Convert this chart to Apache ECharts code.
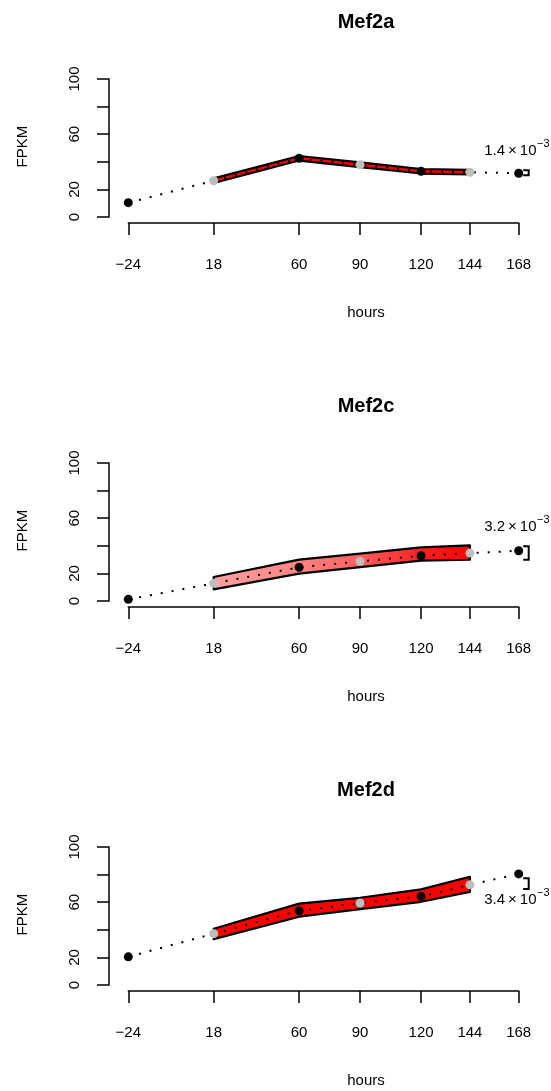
<!DOCTYPE html>
<html><head><meta charset="utf-8">
<script src="https://cdn.jsdelivr.net/npm/echarts@6/dist/echarts.min.js"></script>
<style>html,body{margin:0;padding:0;background:#fff}#c{width:551px;height:1091px}</style>
</head><body><div id="c"></div>
<script>
// ---- data ----
const genes = ['Mef2a', 'Mef2c', 'Mef2d'];
const hours = [-24, 18, 60, 90, 120, 144, 168];
const bandHours = [18, 60, 90, 120, 144];
const greyHours = [18, 90, 144];
const yTickLabels = [0, 20, 60, 100];

const mef2aMean  = [10.4, 26.3, 42.5, 37.9, 33.1, 32.4, 31.7];
const mef2aUpper = [28.0, 44.2, 39.6, 34.8, 34.1];
const mef2aLower = [24.6, 40.9, 36.2, 31.5, 30.8];

const mef2cMean  = [1.2, 12.8, 24.4, 28.7, 32.8, 34.7, 36.4];
const mef2cUpper = [17.4, 30.0, 34.3, 38.8, 40.3];
const mef2cLower = [8.4, 19.8, 24.6, 29.2, 29.9];

const mef2dMean  = [20.4, 37.2, 53.8, 59.4, 64.2, 72.6, 80.5];
const mef2dUpper = [40.8, 59.0, 63.2, 69.3, 78.4];
const mef2dLower = [33.2, 49.5, 55.0, 60.3, 67.5];

const bracketHigh = [33.8, 39.6, 77.4];
const bracketLow  = [30.2, 29.9, 69.5];
const pMantissa = ['1.4', '3.2', '3.4'];
const pExponent = ['\u22123', '\u22123', '\u22123'];

// ---- layout / style ----
const means = [mef2aMean, mef2cMean, mef2dMean];
const uppers = [mef2aUpper, mef2cUpper, mef2dUpper];
const lowers = [mef2aLower, mef2cLower, mef2dLower];
const labelBelow = [false, false, true];
const PANEL = 384;
const FONT = '"Liberation Sans", Arial, Helvetica, sans-serif';
const fills = [
  '#ff0000',
  new echarts.graphic.LinearGradient(0, 0, 1, 0, [
    {offset: 0, color: '#ffa0a0'},
    {offset: 0.33, color: '#ff8484'},
    {offset: 0.57, color: '#ff5e5e'},
    {offset: 0.81, color: '#ff2020'},
    {offset: 1, color: '#ff0000'}
  ]),
  '#ff0000'
];

const mctx = document.createElement('canvas').getContext('2d');
function textW(t, size) { mctx.font = size + 'px ' + FONT; return mctx.measureText(t).width; }

const chart = echarts.init(document.getElementById('c'), null, {renderer: 'canvas'});
const grid = [], xAxis = [], yAxis = [], series = [], graphic = [];

genes.forEach((g, i) => {
  const off = i * PANEL;
  grid.push({left: 128.3, right: 32.3, top: 79 + off, height: 138});
  xAxis.push({
    type: 'value', gridIndex: i, min: -24, max: 168, offset: 6,
    splitLine: {show: false},
    axisLine: {show: true, onZero: false, lineStyle: {color: '#000', width: 1.5}},
    axisTick: {show: true, length: 12, customValues: hours, lineStyle: {color: '#000', width: 1.5}},
    axisLabel: {customValues: hours, margin: 34, fontSize: 15, fontFamily: FONT, color: '#000',
      formatter: v => v < 0 ? '\u2212' + Math.abs(v) : String(v)}
  });
  yAxis.push({
    type: 'value', gridIndex: i, min: 0, max: 100, interval: 20, offset: 19.3, position: 'left',
    splitLine: {show: false},
    axisLine: {show: true, onZero: false, lineStyle: {color: '#000', width: 1.5}},
    axisTick: {show: true, length: 12, lineStyle: {color: '#000', width: 1.5}},
    axisLabel: {rotate: 90, margin: 27, fontSize: 15, fontFamily: FONT, color: '#000',
      formatter: v => yTickLabels.includes(v) ? String(v) : ''}
  });

  // band
  series.push({
    type: 'custom', xAxisIndex: i, yAxisIndex: i, z: 2, silent: true,
    data: [[bandHours[0], lowers[i][0]]],
    renderItem: (params, api) => {
      const up = bandHours.map((h, j) => api.coord([h, uppers[i][j]]));
      const lo = bandHours.map((h, j) => api.coord([h, lowers[i][j]])).reverse();
      return {type: 'polygon', shape: {points: up.concat(lo)},
        style: {fill: fills[i], stroke: '#000', lineWidth: 2.2, lineJoin: 'round'}};
    }
  });
  // dotted mean line
  series.push({
    type: 'line', xAxisIndex: i, yAxisIndex: i, z: 3, silent: true,
    data: hours.map((h, j) => [h, means[i][j]]),
    symbol: 'none', lineStyle: {color: '#000', width: 2, type: [2, 9]}
  });
  // points
  series.push({
    type: 'scatter', xAxisIndex: i, yAxisIndex: i, z: 4, silent: true,
    symbolSize: 9,
    data: hours.map((h, j) => ({value: [h, means[i][j]],
      itemStyle: {color: greyHours.includes(h) ? '#bebebe' : '#000', opacity: 1}}))
  });
  // bracket + p-value annotation
  series.push({
    type: 'custom', xAxisIndex: i, yAxisIndex: i, z: 5, silent: true,
    data: [[168, bracketHigh[i]]],
    renderItem: (params, api) => {
      const top = api.coord([168, bracketHigh[i]]);
      const bot = api.coord([168, bracketLow[i]]);
      const x0 = top[0] + 4.5, x1 = top[0] + 10;
      const main = pMantissa[i] + '\u2009\u00d7\u200910';
      const tx = top[0] - 34.5;
      const ty = labelBelow[i] ? bot[1] + 11 : top[1] - 19;
      const mw = textW(main, 15);
      return {type: 'group', children: [
        {type: 'polyline', shape: {points: [[x0, top[1]], [x1, top[1]], [x1, bot[1]], [x0, bot[1]]]},
          style: {stroke: '#000', lineWidth: 2, fill: null}},
        {type: 'text', x: tx, y: ty, style: {text: main, fontSize: 15, fontFamily: FONT, fill: '#000',
          align: 'left', verticalAlign: 'middle'}},
        {type: 'text', x: tx + mw + 0.5, y: ty - 7, style: {text: pExponent[i], fontSize: 11, fontFamily: FONT, fill: '#000',
          align: 'left', verticalAlign: 'middle'}}
      ]};
    }
  });

  graphic.push(
    {type: 'text', x: 366, y: 22.7 + off, style: {text: g, fontSize: 20, fontWeight: 'bold', fontFamily: FONT,
      fill: '#000', align: 'center', verticalAlign: 'middle'}},
    {type: 'text', x: 366, y: 313 + off, style: {text: 'hours', fontSize: 15, fontFamily: FONT,
      fill: '#000', align: 'center', verticalAlign: 'middle'}},
    {type: 'text', x: 23.3, y: 146.7 + off, rotation: Math.PI / 2, style: {text: 'FPKM', fontSize: 15, fontFamily: FONT,
      fill: '#000', align: 'center', verticalAlign: 'middle'}}
  );
});

chart.setOption({animation: false, backgroundColor: '#fff', grid, xAxis, yAxis, series, graphic});
</script></body></html>
